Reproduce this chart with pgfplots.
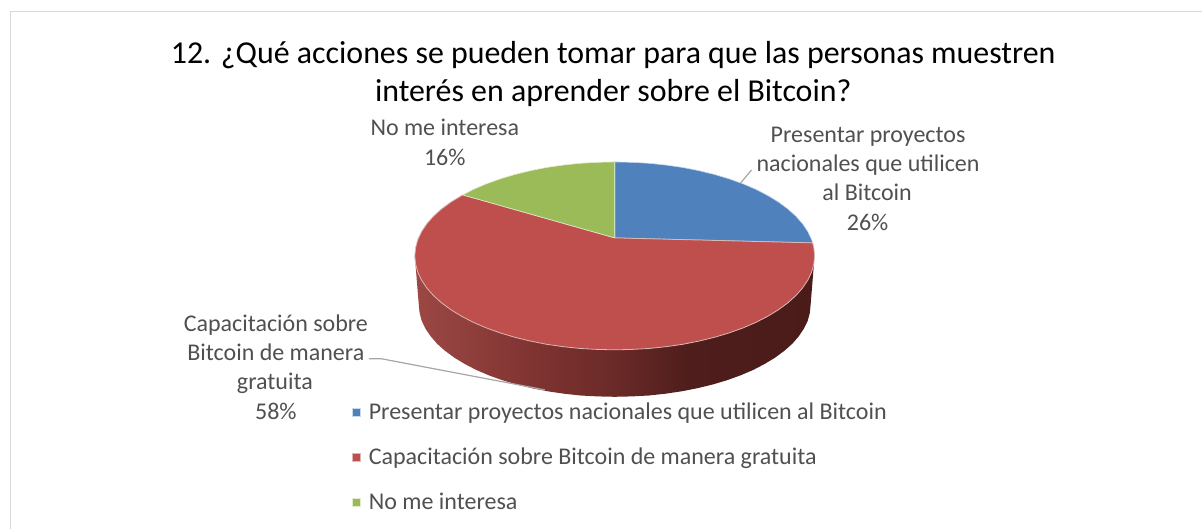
\documentclass[border=0pt]{standalone}
\usepackage{pgfplots}
\pgfplotsset{compat=1.18}
\usepackage{fontspec}
\setmainfont{Carlito}
\definecolor{pblue}{HTML}{4F81BD}
\definecolor{pred}{HTML}{BE4F4C}
\definecolor{pgreen}{HTML}{9BBB59}
\definecolor{ltxt}{HTML}{505050}
\definecolor{edge}{HTML}{D9B8B6}
\definecolor{wa}{HTML}{9C4845}
\definecolor{wb}{HTML}{7F3331}
\definecolor{wc}{HTML}{6A2A28}
\definecolor{wd}{HTML}{4F1E1C}
\definecolor{we}{HTML}{4A1B19}
\pgfdeclarehorizontalshading{wall}{100bp}{
 color(0bp)=(wa); color(25bp)=(wa); color(40bp)=(wb); color(50bp)=(wc); color(59bp)=(wd); color(75bp)=(we); color(100bp)=(we)}
\newcommand{\fs}{\fontsize{24}{29}\selectfont}
\begin{document}
\begin{tikzpicture}
\begin{axis}[
 x=1pt,y=1pt,xmin=0,xmax=1203,ymin=0,ymax=529,y dir=reverse,hide axis,clip=false,
 scale only axis,
 legend style={at={(axis cs:352,404)},anchor=north west,draw=none,fill=none,
   font=\fs\color{ltxt},row sep=28.5pt,
   inner xsep=0pt,inner ysep=0pt,
   nodes={inner sep=0pt,anchor=base west,text depth=0pt,text height=16pt}},
 legend cell align=left,
 legend image code/.code={\fill[#1] (0pt,3.5pt) rectangle (8pt,11.5pt);\path (16pt,0pt);},
]
% extent of the page
\addplot[forget plot,draw=none] coordinates {(0,0)(1203,529)};
% frame of the chart
\addplot[forget plot,color=black!15,line width=1.2pt] coordinates {(1203,11.5) (10.5,11.5) (10.5,529)};
% side wall of the red slice
\addplot[forget plot,draw=none,shading=wall] coordinates {
(815,256)(811,305)(810.2,313)(808.1,321)(804.3,328.8)(799.2,336.4)(792.7,343.9)(784.7,351)(775.5,357.8)(765.1,364.1)(753.6,370.1)(741,375.5)(727.4,380.4)(713,384.7)(697.8,388.4)(682,391.5)(665.8,393.9)(649.1,395.7)(632.1,396.6)(615,397)
(597.9,396.6)(580.9,395.7)(564.2,393.9)(548,391.5)(532.2,388.4)(517,384.7)(502.6,380.4)(489,375.5)(476.4,370.1)(464.9,364.1)(454.5,357.8)(445.3,351)(437.3,343.9)(430.8,336.4)(425.7,328.8)(421.9,321)(419.8,313)(419,305)(415,256)(815,256)};
% blue slice: 26 %
\addplot[draw=white!70!pblue,line width=0.6pt,fill=pblue] coordinates {
(615,238)(615,162)(632.4,162.4)(649.8,163.4)(666.8,165.2)(683.4,167.6)(699.5,170.8)(715,174.6)(729.7,179)(743.6,184)(756.4,189.5)(768.2,195.6)(778.8,202.1)(788.2,209)(796.3,216.3)(803,223.9)(808.2,231.7)(812,239.7)(813.1,243)(615,238)};
% red slice: 58 %
\addplot[draw=edge,line width=0.8pt,fill=pred] coordinates {
(615,238)(813.1,243)(814.2,247.8)(815,256)(814.2,264.2)(812,272.3)(808.2,280.3)(803,288.1)(796.3,295.7)(788.2,303)(778.8,309.9)(768.2,316.4)(756.4,322.5)(743.6,328)(729.7,333)(715,337.4)(699.5,341.2)(683.4,344.4)(666.8,346.8)(649.8,348.6)(632.4,349.6)(615,350)
(597.6,349.6)(580.2,348.6)(563.2,346.8)(546.6,344.4)(530.5,341.2)(515,337.4)(500.3,333)(486.4,328)(473.6,322.5)(461.8,316.4)(451.2,309.9)(441.8,303)(433.7,295.7)(427,288.1)(421.8,280.3)(418,272.3)(415.8,264.2)(415,256)
(415.8,247.8)(418,239.7)(421.8,231.7)(427,223.9)(433.7,216.3)(441.8,209)(451.2,202.1)(463,195)(615,238)};
% green slice: 16 %
\addplot[draw=white!70!pgreen,line width=0.6pt,fill=pgreen] coordinates {
(615,238)(463,195)(473.6,189.5)(486.4,184)(500.3,179)(515,174.6)(530.5,170.8)(546.6,167.6)(563.2,165.2)(580.2,163.4)(597.6,162.4)(615,162)(615,238)};
\legend{Presentar proyectos nacionales que utilicen al Bitcoin,Capacitación sobre Bitcoin de manera gratuita,No me interesa}
% leader lines
\addplot[forget plot,color=black!35,line width=1.2pt] coordinates {(741,183)(752,170)};
\addplot[forget plot,color=black!35,line width=1.2pt] coordinates {(369,359)(382,359)(545,390)};
% title and data labels
\node[anchor=base,font=\fontsize{31.9}{37}\selectfont,text=black] at (axis cs:613.5,63.5) {12. ¿Qué acciones se pueden tomar para que las personas muestren};
\node[anchor=base,font=\fontsize{31.9}{37}\selectfont,text=black] at (axis cs:613.5,101.5) {interés en aprender sobre el Bitcoin?};
\node[anchor=base,font=\fs,text=ltxt] at (axis cs:445,136) {No me interesa};
\node[anchor=base,font=\fs,text=ltxt] at (axis cs:445,166) {16\%};
\node[anchor=base,font=\fs,text=ltxt] at (axis cs:868.5,142.5) {Presentar proyectos};
\node[anchor=base,font=\fs,text=ltxt] at (axis cs:868.5,171.5) {nacionales que utilicen};
\node[anchor=base,font=\fs,text=ltxt] at (axis cs:867.5,200.5) {al Bitcoin};
\node[anchor=base,font=\fs,text=ltxt] at (axis cs:868,230.5) {26\%};
\node[anchor=base,font=\fs,text=ltxt] at (axis cs:276,331.5) {Capacitación sobre};
\node[anchor=base,font=\fs,text=ltxt] at (axis cs:276,360.5) {Bitcoin de manera};
\node[anchor=base,font=\fs,text=ltxt] at (axis cs:275,389.5) {gratuita};
\node[anchor=base,font=\fs,text=ltxt] at (axis cs:276,419.5) {58\%};
\end{axis}
\end{tikzpicture}
\end{document}
